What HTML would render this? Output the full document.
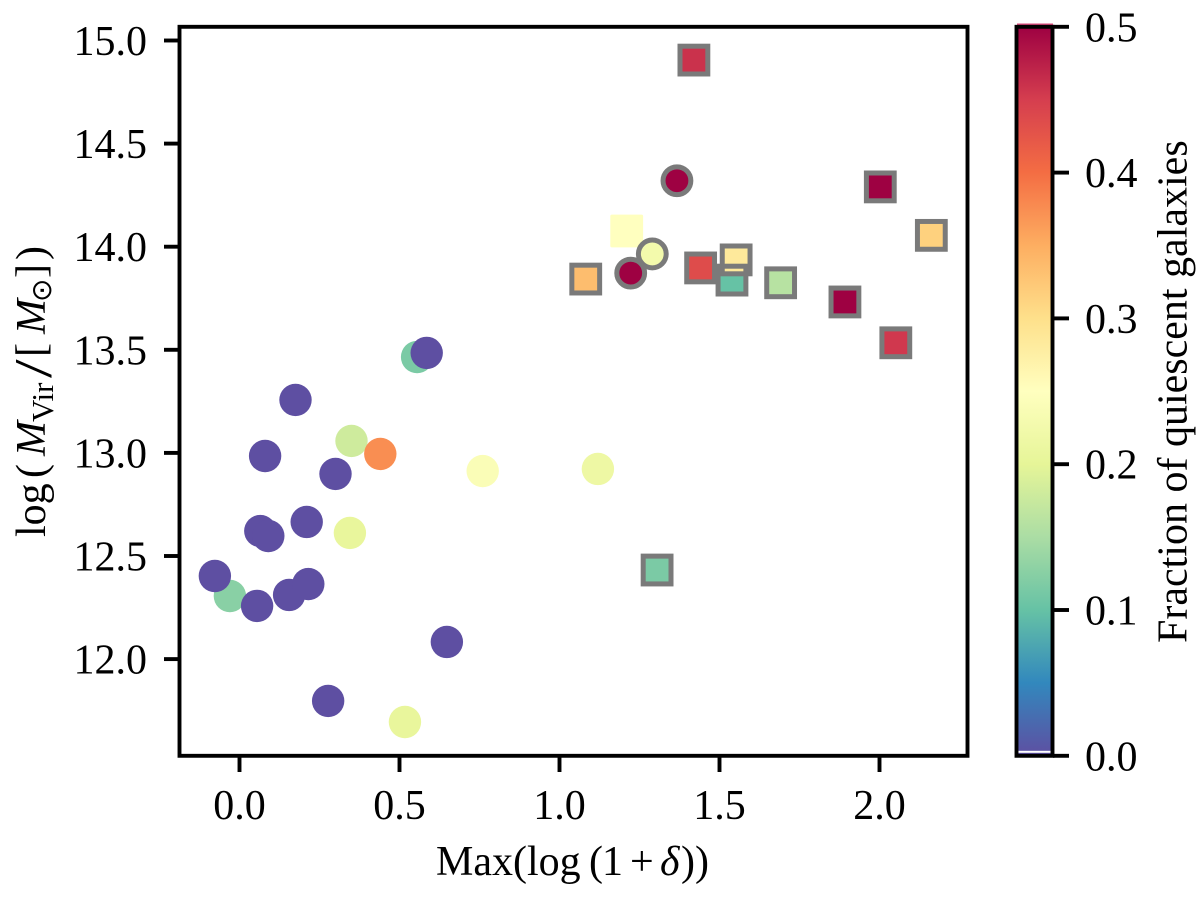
<!DOCTYPE html>
<html lang="en">
<head>
<meta charset="utf-8">
<title>Quiescent fraction scatter</title>
<style>
html,body{margin:0;padding:0;background:#fff;width:1200px;height:900px;overflow:hidden}
svg{display:block}
text{font-family:"Liberation Serif","DejaVu Serif",serif;fill:#000}
</style>
</head>
<body>
<svg id="chart" width="1200" height="900" viewBox="0 0 1200 900" xmlns="http://www.w3.org/2000/svg">
  <defs>
    <linearGradient id="cbar-gradient" x1="0" y1="1" x2="0" y2="0"></linearGradient>
  </defs>
  <g id="squares-fill"></g>
  <g id="squares-edge"></g>
  <g id="circles"></g>
  <rect x="179.5" y="26.8" width="788" height="729" fill="none" stroke="#000" stroke-width="3.9"/>
  <g id="x-ticks"></g>
  <g id="y-ticks"></g>

  <text y="875" font-size="42"><tspan x="436">Max(log</tspan><tspan x="589">(</tspan><tspan x="602">1</tspan><tspan x="630">+</tspan><tspan x="660" font-style="italic">δ</tspan><tspan x="681">))</tspan></text>

  <text transform="translate(45,538) rotate(-90)" font-size="42"><tspan x="1">log</tspan><tspan x="60">(</tspan><tspan x="82" font-style="italic">M</tspan><tspan x="116" font-size="31" dy="8">Vir</tspan><tspan x="181" dy="-8">[</tspan><tspan x="204" font-style="italic">M</tspan><tspan x="236" font-size="28" dy="6" style="font-family:'DejaVu Sans',sans-serif">⊙</tspan><tspan x="260" dy="-6">]</tspan><tspan x="278">)</tspan></text>
  <text transform="translate(51,378) rotate(-90) scale(1.6,1.25)" font-size="42">/</text>

  <rect x="1017" y="23.5" width="36" height="3" fill="#d9497a"/>
  <rect x="1016.5" y="26.8" width="36" height="729" fill="url(#cbar-gradient)"/>
  <rect x="1018" y="750.8" width="34" height="2" fill="#fff"/>
  <rect x="1016.5" y="26.8" width="36" height="729" fill="none" stroke="#000" stroke-width="3.9"/>
  <g id="cbar-ticks"></g>
  <text transform="translate(1186.5,643) rotate(-90)" font-size="42">Fraction of quiescent galaxies</text>
</svg>
<script>
// Axis tick labels
var xTickValues = [0, 0.5, 1, 1.5, 2];
var xTickLabels = ['0.0', '0.5', '1.0', '1.5', '2.0'];
var yTickValues = [12, 12.5, 13, 13.5, 14, 14.5, 15];
var yTickLabels = ['12.0', '12.5', '13.0', '13.5', '14.0', '14.5', '15.0'];
var cbarTickValues = [0, 0.1, 0.2, 0.3, 0.4, 0.5];
var cbarTickLabels = ['0.0', '0.1', '0.2', '0.3', '0.4', '0.5'];

// Circles without an edge
var circleX = [0.555, 0.585, -0.03, -0.077, 0.055, 0.155, 0.215, 0.648, 0.277, 0.517, 0.065, 0.09, 0.21, 0.345, 0.08, 0.30, 0.175, 0.35, 0.44, 0.76, 1.12];
var circleY = [13.465, 13.485, 12.306, 12.403, 12.258, 12.311, 12.364, 12.083, 11.797, 11.695, 12.621, 12.597, 12.665, 12.612, 12.985, 12.898, 13.257, 13.058, 12.995, 12.912, 12.922];
var circleFrac = [0.115, 0, 0.125, 0, 0, 0, 0, 0, 0, 0.205, 0, 0, 0, 0.205, 0, 0, 0, 0.18, 0.375, 0.24, 0.215];

// Circles with a grey edge
var edgeCircleX = [1.367, 1.2225, 1.29];
var edgeCircleY = [14.32, 13.872, 13.965];
var edgeCircleFrac = [0.5, 0.5, 0.225];

// Squares: hasEdge flags which markers get the grey outline
var squareX = [1.42, 1.21, 1.082, 1.539, 1.441, 1.552, 1.691, 1.892, 2.0025, 2.162, 2.051, 1.305];
var squareY = [14.905, 14.076, 13.843, 13.838, 13.897, 13.936, 13.825, 13.732, 14.29, 14.055, 13.534, 12.432];
var squareFrac = [0.46, 0.25, 0.335, 0.1, 0.435, 0.285, 0.16, 0.5, 0.5, 0.315, 0.455, 0.115];
var squareEdge = [1, 0, 1, 1, 1, 1, 1, 1, 1, 1, 1, 1];

// Reversed Spectral colour map
var cmapColors = ['#5e4fa2', '#3288bd', '#66c2a5', '#abdda4', '#e6f598', '#ffffbf', '#fee08b', '#fdae61', '#f46d43', '#d53e4f', '#9e0142'];

var NS = 'http://www.w3.org/2000/svg';
var EDGE = '#7a7a7a';
var xOrigin = 239.5, xPerUnit = 320;
var yTop = 40.5, yPerUnit = 206.2;
var cbarBottom = 755.8, cbarHeight = 729, cbarMax = 0.5;
function xScale(v) { return xOrigin + v * xPerUnit; }
function yScale(v) { return yTop + (15 - v) * yPerUnit; }
function cbarScale(v) { return cbarBottom - (v / cbarMax) * cbarHeight; }
function hexRgb(h) { return [1, 3, 5].map(function (i) { return parseInt(h.substr(i, 2), 16); }); }
function colorFor(v) {
  var t = Math.max(0, Math.min(1, v / cbarMax)) * (cmapColors.length - 1);
  var i = Math.min(Math.floor(t), cmapColors.length - 2);
  var a = hexRgb(cmapColors[i]), b = hexRgb(cmapColors[i + 1]), f = t - i;
  return 'rgb(' + a.map(function (c, k) { return Math.round(c + (b[k] - c) * f); }).join(',') + ')';
}
function make(tag, parentId, attrs) {
  var el = document.createElementNS(NS, tag);
  for (var k in attrs) el.setAttribute(k, attrs[k]);
  document.getElementById(parentId).appendChild(el);
  return el;
}

cmapColors.forEach(function (c, i) {
  var stop = make('stop', 'cbar-gradient', { offset: i / (cmapColors.length - 1), 'stop-color': c });
  
  
});

var S = 27.8, SW = 5;
squareX.forEach(function (x, i) {
  var cx = xScale(x), cy = yScale(squareY[i]);
  var size = squareEdge[i] ? S : S + SW;
  var fill = make('rect', 'squares-fill', { x: cx - size / 2, y: cy - size / 2, width: size, height: size, rx: squareEdge[i] ? 0 : 1.5, fill: colorFor(squareFrac[i]) });
  
  
  if (squareEdge[i]) {
    var edge = make('rect', 'squares-edge', { x: cx - S / 2, y: cy - S / 2, width: S, height: S, fill: 'none', stroke: EDGE, 'stroke-width': SW });
    
    
  }
});

circleX.forEach(function (x, i) {
  var c = make('circle', 'circles', { cx: xScale(x), cy: yScale(circleY[i]), r: 16.2, fill: colorFor(circleFrac[i]) });
  
  
});
edgeCircleX.forEach(function (x, i) {
  var c = make('circle', 'circles', { cx: xScale(x), cy: yScale(edgeCircleY[i]), r: 13.9, fill: colorFor(edgeCircleFrac[i]), stroke: EDGE, 'stroke-width': 5 });
  
  
});

xTickValues.forEach(function (v, i) {
  var px = xScale(v);
  var line = make('line', 'x-ticks', { x1: px, x2: px, y1: 757, y2: 772, stroke: '#000', 'stroke-width': 3.9 });
  
  
  var t = make('text', 'x-ticks', { x: px, y: 819, 'font-size': 42, 'text-anchor': 'middle' });
  t.textContent = xTickLabels[i];
  
  
});
yTickValues.forEach(function (v, i) {
  var py = yScale(v);
  var line = make('line', 'y-ticks', { x1: 164, x2: 179, y1: py, y2: py, stroke: '#000', 'stroke-width': 3.9 });
  
  
  var t = make('text', 'y-ticks', { x: 147, y: py + 14.5, 'font-size': 42, 'text-anchor': 'end' });
  t.textContent = yTickLabels[i];
  
  
});
cbarTickValues.forEach(function (v, i) {
  var py = cbarScale(v);
  var line = make('line', 'cbar-ticks', { x1: 1053, x2: 1069, y1: py, y2: py, stroke: '#000', 'stroke-width': 3.9 });
  
  
  var t = make('text', 'cbar-ticks', { x: 1085, y: py + 14.5, 'font-size': 42 });
  t.textContent = cbarTickLabels[i];
  
  
});
</script>
</body>
</html>
